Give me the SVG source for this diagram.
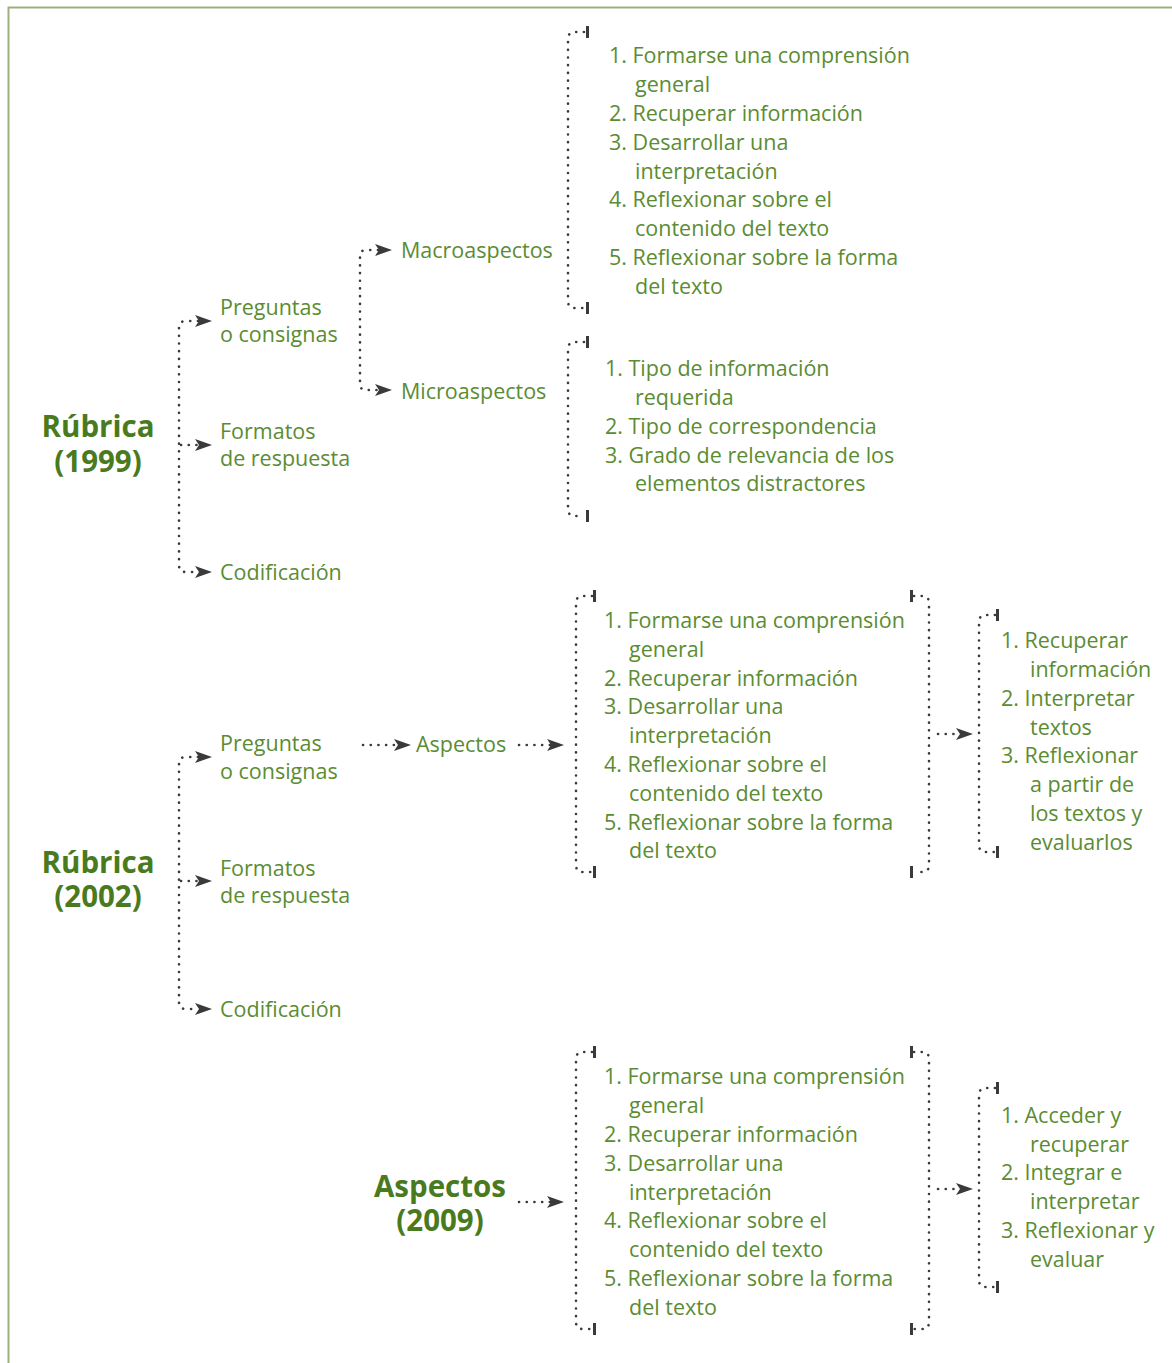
<svg xmlns="http://www.w3.org/2000/svg" width="1172" height="1363" viewBox="0 0 1172 1363">
<style>
text{font-family:"Open Sans","Noto Sans","DejaVu Sans",sans-serif;fill:#5b8c33;font-size:21.5px}
.t{font-weight:bold;font-size:29.5px;fill:#4a7a1e;text-anchor:middle}
.d{fill:none;stroke:#3a3a3a;stroke-width:2.6;stroke-linecap:round;stroke-dasharray:0.1 7.6}
.a{marker-end:url(#ar)}
.as{marker-start:url(#ars)}
.k{fill:#3a3a3a}
</style>
<defs>
<marker id="ar" viewBox="0 -6 17 12" refX="3" refY="0" markerWidth="17" markerHeight="12" markerUnits="userSpaceOnUse" orient="auto"><path d="M0,-6 L17,0 L0,6 L4,0 z" fill="#3a3a3a"/></marker>
<marker id="ars" viewBox="0 -6 17 12" refX="3" refY="0" markerWidth="17" markerHeight="12" markerUnits="userSpaceOnUse" orient="auto-start-reverse"><path d="M0,-6 L17,0 L0,6 L4,0 z" fill="#3a3a3a"/></marker>
</defs>
<g id="border"><path d="M8.5,1363 L8.5,7.5 L1172,7.5" fill="none" stroke="#9cb27c" stroke-width="2"/></g>

<g id="connectors">
<path class="d a as" d="M198,321 L186,321 Q179,321 179,328 L179,565 Q179,572 186,572 L198,572"/>
<path class="d a" d="M181,445 L198,445"/>
<path class="d a as" d="M378,250 L366,250 Q360,250 360,256 L360,384 Q360,390 366,390 L378,390"/>
<path class="d" d="M584,32 L575,32 Q568,32 568,39 L568,301 Q568,308 575,308 L584,308"/>
<rect class="k" x="586" y="26" width="3" height="12"/>
<rect class="k" x="586" y="302" width="3" height="12"/>
<path class="d" d="M584,342 L575,342 Q568,342 568,349 L568,509 Q568,516 575,516 L584,516"/>
<rect class="k" x="586" y="336" width="3" height="12"/>
<rect class="k" x="586" y="510" width="3" height="12"/>

<path class="d a as" d="M198,757 L186,757 Q179,757 179,764 L179,1002 Q179,1009 186,1009 L198,1009"/>
<path class="d a" d="M181,881 L198,881"/>
<path class="d a" d="M363,745 L397,745"/>
<path class="d a" d="M519,745 L550,745"/>
<path class="d" d="M592,596 L583,596 Q576,596 576,603 L576,865 Q576,872 583,872 L592,872"/>
<rect class="k" x="593" y="590" width="3" height="12"/>
<rect class="k" x="593" y="866" width="3" height="12"/>
<path class="d" d="M914,596 L922,596 Q929,596 929,603 L929,865 Q929,872 922,872 L914,872"/>
<rect class="k" x="910" y="590" width="3" height="12"/>
<rect class="k" x="910" y="866" width="3" height="12"/>
<path class="d a" d="M938,734 L959,734"/>
<path class="d" d="M995,615 L986,615 Q979,615 979,622 L979,845 Q979,852 986,852 L995,852"/>
<rect class="k" x="996" y="609" width="3" height="12"/>
<rect class="k" x="996" y="846" width="3" height="12"/>

<path class="d a" d="M519,1202 L550,1202"/>
<path class="d" d="M592,1052 L583,1052 Q576,1052 576,1059 L576,1322 Q576,1329 583,1329 L592,1329"/>
<rect class="k" x="593" y="1046" width="3" height="12"/>
<rect class="k" x="593" y="1323" width="3" height="12"/>
<path class="d" d="M914,1052 L922,1052 Q929,1052 929,1059 L929,1322 Q929,1329 922,1329 L914,1329"/>
<rect class="k" x="910" y="1046" width="3" height="12"/>
<rect class="k" x="910" y="1323" width="3" height="12"/>
<path class="d a" d="M938,1189 L959,1189"/>
<path class="d" d="M995,1088 L986,1088 Q979,1088 979,1095 L979,1280 Q979,1287 986,1287 L995,1287"/>
<rect class="k" x="996" y="1082" width="3" height="12"/>
<rect class="k" x="996" y="1281" width="3" height="12"/>
</g>

<g id="rubrica1999"><text class="t"><tspan x="98" y="437">Rúbrica</tspan><tspan x="98" y="472">(1999)</tspan></text></g>
<g id="preguntas1999"><text x="220" y="315">Preguntas</text><text x="220" y="342">o consignas</text></g>
<g id="formatos1999"><text x="220" y="439">Formatos</text><text x="220" y="466">de respuesta</text></g>
<g id="codificacion1999"><text x="220" y="580">Codificación</text></g>
<g id="macro"><text x="401" y="258">Macroaspectos</text></g>
<g id="micro"><text x="401" y="399">Microaspectos</text></g>
<g id="macrolist">
<text x="609" y="63">1. Formarse una comprensión</text>
<text x="635" y="92">general</text>
<text x="609" y="121">2. Recuperar información</text>
<text x="609" y="150">3. Desarrollar una</text>
<text x="635" y="179">interpretación</text>
<text x="609" y="207">4. Reflexionar sobre el</text>
<text x="635" y="236">contenido del texto</text>
<text x="609" y="265">5. Reflexionar sobre la forma</text>
<text x="635" y="294">del texto</text>
</g>
<g id="microlist">
<text x="605" y="376">1. Tipo de información</text>
<text x="635" y="405">requerida</text>
<text x="605" y="434">2. Tipo de correspondencia</text>
<text x="605" y="463">3. Grado de relevancia de los</text>
<text x="635" y="491">elementos distractores</text>
</g>

<g id="rubrica2002"><text class="t"><tspan x="98" y="873">Rúbrica</tspan><tspan x="98" y="907">(2002)</tspan></text></g>
<g id="preguntas2002"><text x="220" y="751">Preguntas</text><text x="220" y="779">o consignas</text></g>
<g id="formatos2002"><text x="220" y="876">Formatos</text><text x="220" y="903">de respuesta</text></g>
<g id="codificacion2002"><text x="220" y="1017">Codificación</text></g>
<g id="aspectos2002"><text x="416" y="752">Aspectos</text></g>
<g id="list2002">
<text x="604" y="628">1. Formarse una comprensión</text>
<text x="629" y="657">general</text>
<text x="604" y="686">2. Recuperar información</text>
<text x="604" y="714">3. Desarrollar una</text>
<text x="629" y="743">interpretación</text>
<text x="604" y="772">4. Reflexionar sobre el</text>
<text x="629" y="801">contenido del texto</text>
<text x="604" y="830">5. Reflexionar sobre la forma</text>
<text x="629" y="858">del texto</text>
</g>
<g id="list2002b">
<text x="1001" y="648">1. Recuperar</text>
<text x="1030" y="677">información</text>
<text x="1001" y="706">2. Interpretar</text>
<text x="1030" y="735">textos</text>
<text x="1001" y="763">3. Reflexionar</text>
<text x="1030" y="792">a partir de</text>
<text x="1030" y="821">los textos y</text>
<text x="1030" y="850">evaluarlos</text>
</g>

<g id="aspectos2009"><text class="t"><tspan x="440" y="1197">Aspectos</tspan><tspan x="440" y="1231">(2009)</tspan></text></g>
<g id="list2009">
<text x="604" y="1084">1. Formarse una comprensión</text>
<text x="629" y="1113">general</text>
<text x="604" y="1142">2. Recuperar información</text>
<text x="604" y="1171">3. Desarrollar una</text>
<text x="629" y="1200">interpretación</text>
<text x="604" y="1228">4. Reflexionar sobre el</text>
<text x="629" y="1257">contenido del texto</text>
<text x="604" y="1286">5. Reflexionar sobre la forma</text>
<text x="629" y="1315">del texto</text>
</g>
<g id="list2009b">
<text x="1001" y="1123">1. Acceder y</text>
<text x="1030" y="1152">recuperar</text>
<text x="1001" y="1180">2. Integrar e</text>
<text x="1030" y="1209">interpretar</text>
<text x="1001" y="1238">3. Reflexionar y</text>
<text x="1030" y="1267">evaluar</text>
</g>
</svg>
